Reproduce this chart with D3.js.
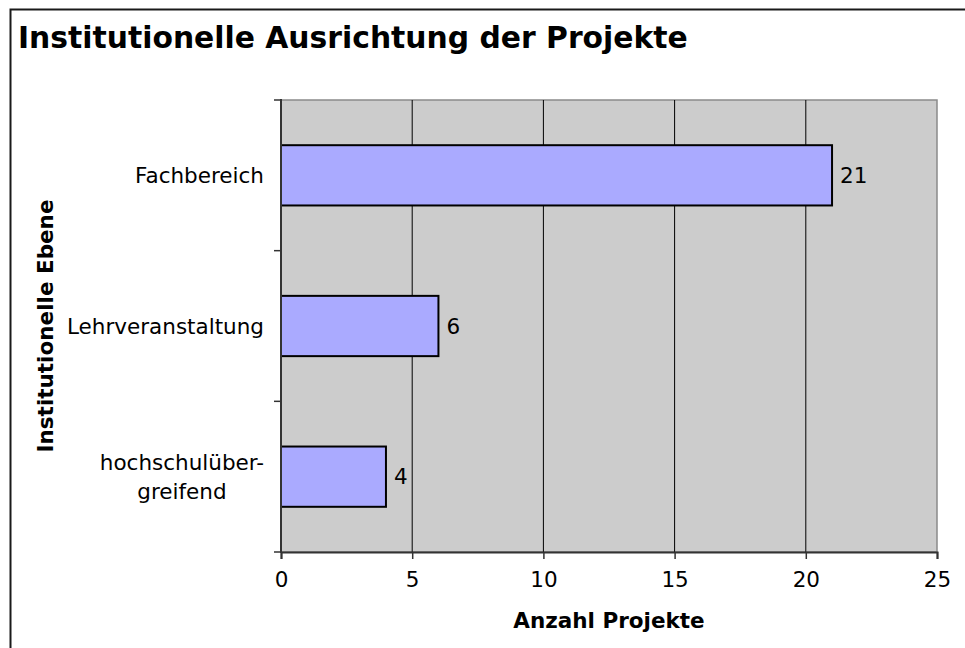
<!DOCTYPE html>
<html>
<head>
<meta charset="utf-8">
<script src="https://cdn.jsdelivr.net/npm/d3@7"></script>
<style>
  body { margin: 0; background: #fff; }
  text { font-family: "DejaVu Sans", Verdana, sans-serif; fill: #000; }
</style>
</head>
<body>
<div id="chart"></div>
<script>
// chart data
let categories = ["Fachbereich", "Lehrveranstaltung", "hochschulüber-\ngreifend"];
let values = [21, 6, 4];
let xTicks = [0, 5, 10, 15, 20, 25];

let chartTitle = "Institutionelle Ausrichtung der Projekte";
let xTitle = "Anzahl Projekte";
let yTitle = "Institutionelle Ebene";

let width = 965, height = 648;
let plot = {left: 281, right: 937, top: 100, bottom: 552};
let fs = "21.5px";

let svg = d3.select("#chart").append("svg")
    .attr("width", width)
    .attr("height", height);

// outer frame (runs off the right/bottom edge like the original)
svg.append("rect")
    .attr("x", 10.5).attr("y", 9.5)
    .attr("width", 1000).attr("height", 700)
    .attr("fill", "none")
    .attr("stroke", "#1a1a1a")
    .attr("stroke-width", 2);

svg.append("text")
    .attr("x", 18).attr("y", 48)
    .style("font-size", "29.8px")
    .style("font-weight", "bold")
    .text(chartTitle);

let x = d3.scaleLinear().domain([0, 25]).range([plot.left, plot.right]);
let y = d3.scaleBand().domain(categories).range([plot.top, plot.bottom]).paddingInner(0.6).paddingOuter(0.3);
let band = d3.scaleBand().domain(categories).range([plot.top, plot.bottom]);

// plot background
svg.append("rect")
    .attr("x", plot.left).attr("y", plot.top)
    .attr("width", plot.right - plot.left)
    .attr("height", plot.bottom - plot.top)
    .attr("fill", "#cccccc")
    .attr("stroke", "#8a8a8a")
    .attr("stroke-width", 1.5);

// vertical gridlines
svg.append("g").selectAll("line")
    .data(xTicks.slice(1, -1))
    .join("line")
    .attr("x1", d => x(d)).attr("x2", d => x(d))
    .attr("y1", plot.top).attr("y2", plot.bottom)
    .attr("stroke", "#000").attr("stroke-width", 1);

// bars
svg.append("g").selectAll("rect")
    .data(values)
    .join("rect")
    .attr("x", x(0))
    .attr("y", (d, i) => y(categories[i]))
    .attr("width", d => x(d) - x(0))
    .attr("height", y.bandwidth())
    .attr("fill", "#aaaaff")
    .attr("stroke", "#000")
    .attr("stroke-width", 2);

// value labels
svg.append("g").selectAll("text")
    .data(values)
    .join("text")
    .attr("x", d => x(d) + 8)
    .attr("y", (d, i) => band(categories[i]) + band.bandwidth() / 2)
    .attr("dy", "0.36em")
    .style("font-size", fs)
    .text(d => d);

// x axis
let xAxis = svg.append("g")
    .attr("transform", `translate(0,${plot.bottom})`)
    .call(d3.axisBottom(x).tickValues(xTicks).tickSize(7).tickPadding(13));
xAxis.select(".domain").attr("stroke", "#333").attr("stroke-width", 2);
xAxis.selectAll(".tick line").attr("stroke", "#333").attr("stroke-width", 1.5);
xAxis.selectAll("text").style("font-size", fs).attr("fill", "#000");

// y axis: ticks between categories
let yBounds = categories.map(c => band(c)).concat([plot.bottom]);
svg.append("g").selectAll("line")
    .data(yBounds)
    .join("line")
    .attr("x1", plot.left - 7).attr("x2", plot.left)
    .attr("y1", d => d).attr("y2", d => d)
    .attr("stroke", "#333").attr("stroke-width", 1.5);
svg.append("line")
    .attr("x1", plot.left).attr("x2", plot.left)
    .attr("y1", plot.top - 1).attr("y2", plot.bottom + 1)
    .attr("stroke", "#333").attr("stroke-width", 2);

// category labels, multi-line ones centred on each other and right-aligned as a block
let catG = svg.append("g");
categories.forEach(c => {
    let lines = c.split("\n");
    let cy = band(c) + band.bandwidth() / 2;
    let lh = 29;
    let t = catG.append("text")
        .style("font-size", fs)
        .attr("text-anchor", "middle");
    lines.forEach((l, i) => {
        t.append("tspan")
            .attr("x", 0)
            .attr("y", cy + (i - (lines.length - 1) / 2) * lh)
            .attr("dy", "0.36em")
            .text(l);
    });
    let w = t.node().getBBox().width;
    t.attr("transform", `translate(${264 - w / 2},0)`);
});

// axis titles
svg.append("text")
    .attr("x", (plot.left + plot.right) / 2).attr("y", 628)
    .attr("text-anchor", "middle")
    .style("font-size", fs)
    .style("font-weight", "bold")
    .text(xTitle);

svg.append("text")
    .attr("transform", `translate(53,${(plot.top + plot.bottom) / 2}) rotate(-90)`)
    .attr("text-anchor", "middle")
    .style("font-size", fs)
    .style("font-weight", "bold")
    .text(yTitle);
</script>
</body>
</html>
